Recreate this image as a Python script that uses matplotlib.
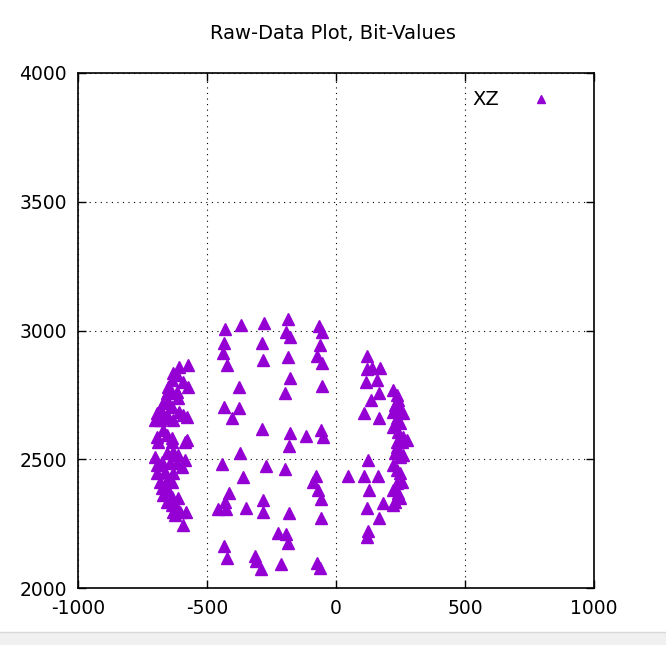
import matplotlib
matplotlib.use("Agg")
import matplotlib.pyplot as plt
from matplotlib.patches import Rectangle

plt.rcParams["axes.unicode_minus"] = False

# XZ raw bit values
xz_x = [
    # left arc
    -610, -575, -633, -617, -637, -594, -575, -652, -656, -637, -617, -614,
    -672, -652, -637, -695, -676, -656, -703, -610, -594, -579, -683, -652,
    -633, -672, -656, -695, -637, -579, -691, -637, -586, -703, -656, -633,
    -614, -586, -695, -676, -645, -617, -598, -695, -664, -633, -683, -656,
    -637, -676, -652, -672, -637, -614, -656, -637, -617, -633, -606, -582,
    -625, -594,
    # middle
    -431, -369, -280, -186, -66, -194, -54, -179, -435, -287, -62, -439,
    -186, -74, -283, -423, -54, -179, -377, -54, -198, -435, -377, -404,
    -287, -179, -116, -58, -50, -183, -373, -443, -272, -198, -361, -78,
    -89, -70, -415, -283, -58, -431, -458, -427, -349, -283, -183, -58,
    -225, -194, -186, -435, -423, -315, -311, -291, -214, -74, -62,
    # right arc
    120, 120, 140, 171, 116, 159, 167, 136, 109, 167, 221, 237,
    241, 229, 249, 221, 260, 237, 249, 221, 241, 260, 276, 237,
    124, 47, 109, 163, 128, 120, 183, 167, 124, 120, 237, 256,
    229, 249, 260, 221, 237, 249, 256, 237, 221, 241, 249, 229, 221,
]
xz_y = [
    # left arc
    2858, 2866, 2835, 2827, 2808, 2800, 2780, 2780, 2757, 2757, 2761, 2738,
    2718, 2722, 2703, 2680, 2683, 2672, 2652, 2683, 2672, 2664, 2652, 2660,
    2652, 2614, 2594, 2586, 2582, 2575, 2567, 2567, 2567, 2509, 2524, 2528,
    2516, 2497, 2478, 2489, 2485, 2485, 2470, 2447, 2450, 2447, 2412, 2419,
    2412, 2388, 2381, 2361, 2353, 2349, 2334, 2322, 2311, 2295, 2295, 2295,
    2283, 2245,
    # middle
    3006, 3021, 3029, 3045, 3017, 2994, 2994, 2975, 2951, 2951, 2944, 2913,
    2897, 2901, 2885, 2866, 2874, 2815, 2780, 2784, 2757, 2703, 2699, 2660,
    2617, 2602, 2590, 2614, 2586, 2551, 2524, 2481, 2474, 2462, 2431, 2435,
    2412, 2381, 2369, 2342, 2346, 2334, 2307, 2307, 2311, 2295, 2291, 2272,
    2214, 2210, 2175, 2163, 2116, 2124, 2105, 2074, 2093, 2097, 2078,
    # right arc
    2901, 2850, 2854, 2854, 2800, 2808, 2757, 2730, 2680, 2660, 2769, 2749,
    2730, 2711, 2699, 2683, 2680, 2660, 2641, 2625, 2606, 2586, 2575, 2567,
    2497, 2435, 2435, 2435, 2381, 2311, 2330, 2272, 2221, 2198, 2548, 2567,
    2524, 2509, 2516, 2478, 2458, 2447, 2412, 2408, 2381, 2369, 2349, 2334, 2322,
]

x_ticks = [-1000, -500, 0, 500, 1000]
y_ticks = [2000, 2500, 3000, 3500, 4000]

fig = plt.figure(figsize=(6.66, 6.45), dpi=100)
ax = fig.add_axes([0.117, 0.088, 0.775, 0.799])

ax.plot(xz_x, xz_y, linestyle="none", marker="^", markersize=8,
        color="#9400d3", label="XZ")

ax.set_xlim(-1000, 1000)
ax.set_ylim(2000, 4000)
ax.set_xticks(x_ticks)
ax.set_yticks(y_ticks)
ax.grid(True, linestyle=(0, (1, 4)), color="black", linewidth=0.8)
ax.tick_params(direction="in", length=6, width=1, top=True, right=True,
               labelsize=13.5, pad=8)
for sp in ax.spines.values():
    sp.set_linewidth(1.2)

leg = ax.legend(loc="upper right", bbox_to_anchor=(0.96, 1.0),
                frameon=False, markerfirst=False, markerscale=0.8,
                fontsize=14, handlelength=1.5, handletextpad=1.4)

fig.text(0.5, 0.948, "Raw-Data Plot, Bit-Values", ha="center", va="center",
         fontsize=14)

# light strip along the bottom of the screenshot
fig.patches.append(Rectangle((0, 0), 1, 0.02, transform=fig.transFigure,
                             facecolor="#f0f0f0", edgecolor="none"))
fig.lines.append(plt.Line2D([0, 1], [0.02, 0.02], transform=fig.transFigure,
                            color="#d8d8d8", linewidth=1))

fig.savefig("out.png", dpi=100)
